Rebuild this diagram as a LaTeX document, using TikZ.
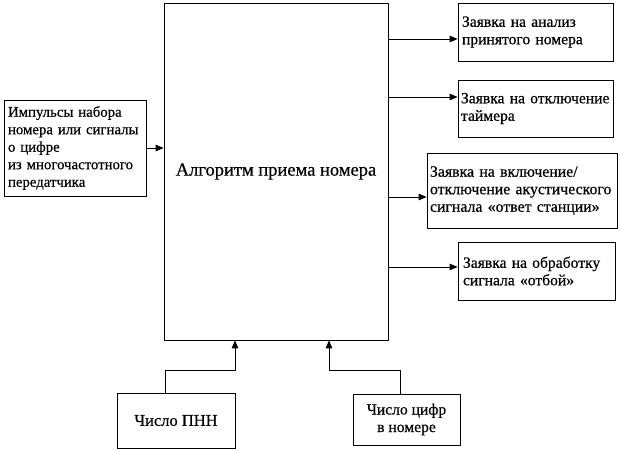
\documentclass[tikz,border=0pt]{standalone}
\usepackage{fontspec}
\setmainfont{LiberationSerif}[Extension=.ttf,UprightFont=*-Regular,
  BoldFont=*-Bold,FakeBold=0.5]
\usepackage{tikz}
\usetikzlibrary{arrows}

\begin{document}
\begin{tikzpicture}[->,>=triangle 45,x=1pt,y=-1pt,line width=0.8pt,
                    font=\fontsize{15.6}{17.5}\selectfont]
  \tikzstyle{every node}=[draw,rectangle,inner sep=4pt]
  \tikzstyle{zayavka}=[align=left,text width=147pt]
  \tikzstyle{chislo}=[align=center]
  \useasboundingbox (0,0) rectangle (620,450);

  \node (algoritm) at (276,171.5) [minimum width=224pt,minimum height=337pt,
    font=\fontsize{18.5}{20}\selectfont] {Алгоритм приема номера};
  \node (impulsy) at (75,148) [minimum width=142pt,minimum height=96pt,
    align=left,text width=134pt,font=\fontsize{14.8}{17.5}\selectfont]
    {Импульсы набора\\номера или сигналы\\о цифре\\из многочастотного\\передатчика};
  \node[zayavka] (analiz)   at (535.5,32)  [minimum width=155pt,minimum height=58pt]
    {Заявка на анализ\\принятого номера};
  \node[zayavka] (taimer)   at (535.5,108.5) [minimum width=155pt,minimum height=57pt,
    inner sep=3pt,text width=149pt] {Заявка на отключение\\таймера};
  \node[zayavka] (signal)   at (522,190.5) [minimum width=190pt,minimum height=75pt,
    inner sep=3pt,text width=184pt,font=\fontsize{15.8}{17.5}\selectfont]
    {Заявка на включение/\\отключение акустического\\сигнала «ответ станции»};
  \node[zayavka] (otboi)    at (536.5,271) [minimum width=157pt,minimum height=58pt]
    {Заявка на обработку\\сигнала «отбой»};
  \node[chislo] (pnn)       at (176,420.5) [minimum width=118pt,minimum height=55pt,
    font=\fontsize{16.5}{17.5}\selectfont] {Число ПНН};
  \node[chislo] (cifry)     at (406.5,419.5) [minimum width=107pt,minimum height=51pt]
    {Число цифр\\в номере};

  \draw (impulsy) -- (impulsy -| algoritm.west);
  \draw ([yshift=-7pt]analiz.west -| algoritm.east) -- ([yshift=-7pt]analiz.west);
  \draw ([yshift=11.5pt]taimer.west -| algoritm.east) -- ([yshift=11.5pt]taimer.west);
  \draw ([yshift=-6.5pt]signal.west -| algoritm.east) -- ([yshift=-6.5pt]signal.west);
  \draw ([yshift=4pt]otboi.west -| algoritm.east) -- ([yshift=4pt]otboi.west);
  \draw ([xshift=-11pt]pnn.north) -- ++(0,-22) -| ([xshift=-41pt]algoritm.south);
  \draw ([xshift=-6.5pt]cifry.north) -- ++(0,-23) -| ([xshift=53pt]algoritm.south);
\end{tikzpicture}
\end{document}
